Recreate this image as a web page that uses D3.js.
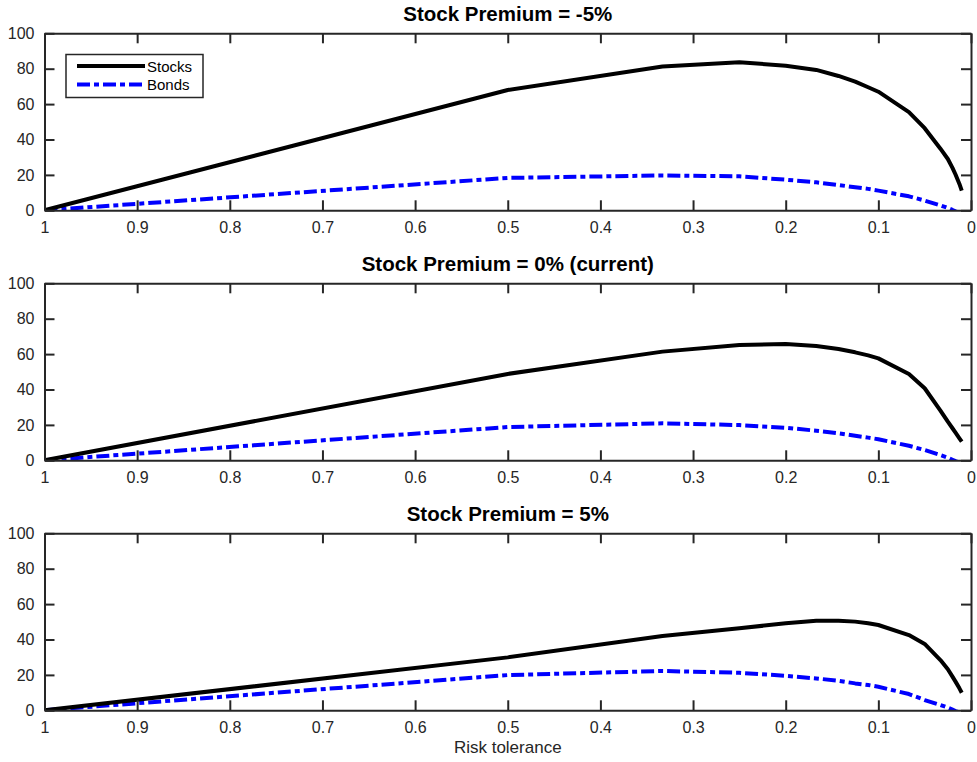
<!DOCTYPE html>
<html>
<head>
<meta charset="utf-8">
<script src="https://cdn.jsdelivr.net/npm/d3@7"></script>
<style>
  body { margin: 0; background: #fff; }
  svg { display: block; font-family: "Liberation Sans", Arial, Helvetica, sans-serif; }
  .axis path, .axis line { stroke: #262626; stroke-width: 2; }
  .axis text { fill: #262626; font-size: 16px; }
</style>
</head>
<body>
<svg id="chart" width="977" height="762"></svg>
<script>
// Risk tolerance grid (1/gamma)
const riskTolerance = [1, 0.5, 0.333, 0.25, 0.2, 0.167, 0.143, 0.125, 0.111, 0.1, 0.067, 0.05, 0.033, 0.025, 0.02, 0.0167, 0.0125, 0.01];

const panelTitles = ["Stock Premium = -5%", "Stock Premium = 0% (current)", "Stock Premium = 5%"];

// Portfolio shares (%) for each stock premium scenario
const stocksMinus5 = [0, 68.0, 81.2, 83.6, 81.7, 79.3, 75.9, 72.7, 69.5, 67.0, 55.5, 46.4, 34.8, 29.0, 24.0, 20.2, 14.9, 11.1];
const bondsMinus5  = [0, 18.3, 19.7, 19.2, 17.3, 15.8, 14.3, 13.0, 12.1, 11.1, 7.9, 5.5, 2.8, 1.3, 0.2, -0.6, -1.4, -2.0];

const stocksZero = [0, 48.8, 61.4, 65.1, 65.7, 64.6, 62.9, 61.0, 59.3, 57.6, 48.8, 40.7, 28.1, 21.8, 18.1, 15.6, 12.4, 10.5];
const bondsZero  = [0, 18.8, 20.9, 19.9, 18.4, 16.7, 15.3, 13.9, 12.8, 11.9, 8.2, 5.8, 3.0, 1.5, 0.3, -0.5, -1.3, -1.9];

const stocksPlus5 = [0, 29.9, 42.0, 46.3, 49.2, 50.6, 50.6, 50.1, 49.2, 48.2, 42.5, 37.5, 28.4, 23.2, 19.0, 16.2, 12.4, 9.9];
const bondsPlus5  = [0, 19.9, 22.2, 21.2, 19.5, 18.0, 16.7, 15.2, 14.3, 13.3, 9.2, 5.8, 3.0, 1.5, 0.4, -0.4, -1.2, -1.8];

const xTicks = [1, 0.9, 0.8, 0.7, 0.6, 0.5, 0.4, 0.3, 0.2, 0.1, 0];
const xTickLabels = ["1", "0.9", "0.8", "0.7", "0.6", "0.5", "0.4", "0.3", "0.2", "0.1", "0"];
const yTicks = [0, 20, 40, 60, 80, 100];
const xLabel = "Risk tolerance";
const legendLabels = ["Stocks", "Bonds"];

const panels = [
  { title: panelTitles[0], stocks: stocksMinus5, bonds: bondsMinus5, top: 33.3 },
  { title: panelTitles[1], stocks: stocksZero,   bonds: bondsZero,   top: 283.3 },
  { title: panelTitles[2], stocks: stocksPlus5,  bonds: bondsPlus5,  top: 533.3 }
];

const svg = d3.select("#chart");
const left = 44.5, right = 971, plotH = 177;
const x = d3.scaleLinear().domain([1, 0]).range([left, right]);
const tickLen = 10;

const stockStyle = { color: "#000000", dash: null };
const bondStyle = { color: "#0000ff", dash: "13,4,5,4" };

panels.forEach((p, i) => {
  const y = d3.scaleLinear().domain([0, 100]).range([p.top + plotH, p.top]);
  const g = svg.append("g");

  const clipId = "clip" + i;
  svg.append("clipPath").attr("id", clipId)
    .append("rect").attr("x", left).attr("y", p.top).attr("width", right - left).attr("height", plotH);

  const line = d3.line().x((d, k) => x(riskTolerance[k])).y(d => y(d));

  // bonds drawn first so the stock line sits on top
  [[p.bonds, bondStyle], [p.stocks, stockStyle]].forEach(([vals, st]) => {
    g.append("path")
      .datum(vals)
      .attr("clip-path", `url(#${clipId})`)
      .attr("fill", "none")
      .attr("stroke", st.color)
      .attr("stroke-width", 4)
      .attr("stroke-linejoin", "round")
      .attr("stroke-dasharray", st.dash)
      .attr("d", line);
  });

  // axes on all four sides, ticks pointing inward
  g.append("g").attr("class", "axis")
    .attr("transform", `translate(0,${p.top + plotH})`)
    .call(d3.axisBottom(x).tickValues(xTicks).tickFormat((d, k) => xTickLabels[k])
      .tickSizeInner(-tickLen).tickSizeOuter(0).tickPadding(11));
  g.append("g").attr("class", "axis")
    .attr("transform", `translate(0,${p.top})`)
    .call(d3.axisTop(x).tickValues(xTicks).tickFormat("")
      .tickSizeInner(-tickLen).tickSizeOuter(0));
  g.append("g").attr("class", "axis")
    .attr("transform", `translate(${left},0)`)
    .call(d3.axisLeft(y).tickValues(yTicks).tickFormat(d3.format("d"))
      .tickSizeInner(-tickLen).tickSizeOuter(0).tickPadding(10));
  g.append("g").attr("class", "axis")
    .attr("transform", `translate(${right},0)`)
    .call(d3.axisRight(y).tickValues(yTicks).tickFormat("")
      .tickSizeInner(-tickLen).tickSizeOuter(0));

  g.append("text")
    .attr("x", (left + right) / 2)
    .attr("y", p.top - 12)
    .attr("text-anchor", "middle")
    .attr("font-size", "20.5px")
    .attr("font-weight", "bold")
    .attr("fill", "#000")
    .text(p.title);
});

// x-axis label under the last panel
svg.append("text")
  .attr("x", (left + right) / 2)
  .attr("y", 753)
  .attr("text-anchor", "middle")
  .attr("font-size", "17px")
  .attr("fill", "#262626")
  .text(xLabel);

// legend in the first panel
const lg = svg.append("g");
lg.append("rect")
  .attr("x", 66).attr("y", 54.5).attr("width", 137).attr("height", 43)
  .attr("fill", "#fff").attr("stroke", "#262626").attr("stroke-width", 1.5);
[[stockStyle, 66], [bondStyle, 84.5]].forEach(([st, yy], k) => {
  lg.append("line")
    .attr("x1", 77).attr("x2", 145).attr("y1", yy).attr("y2", yy)
    .attr("stroke", st.color).attr("stroke-width", 4)
    .attr("stroke-dasharray", st.dash);
  lg.append("text")
    .attr("x", 147).attr("y", yy + 5.5)
    .attr("font-size", "15px").attr("fill", "#000")
    .text(legendLabels[k]);
});
</script>
</body>
</html>
